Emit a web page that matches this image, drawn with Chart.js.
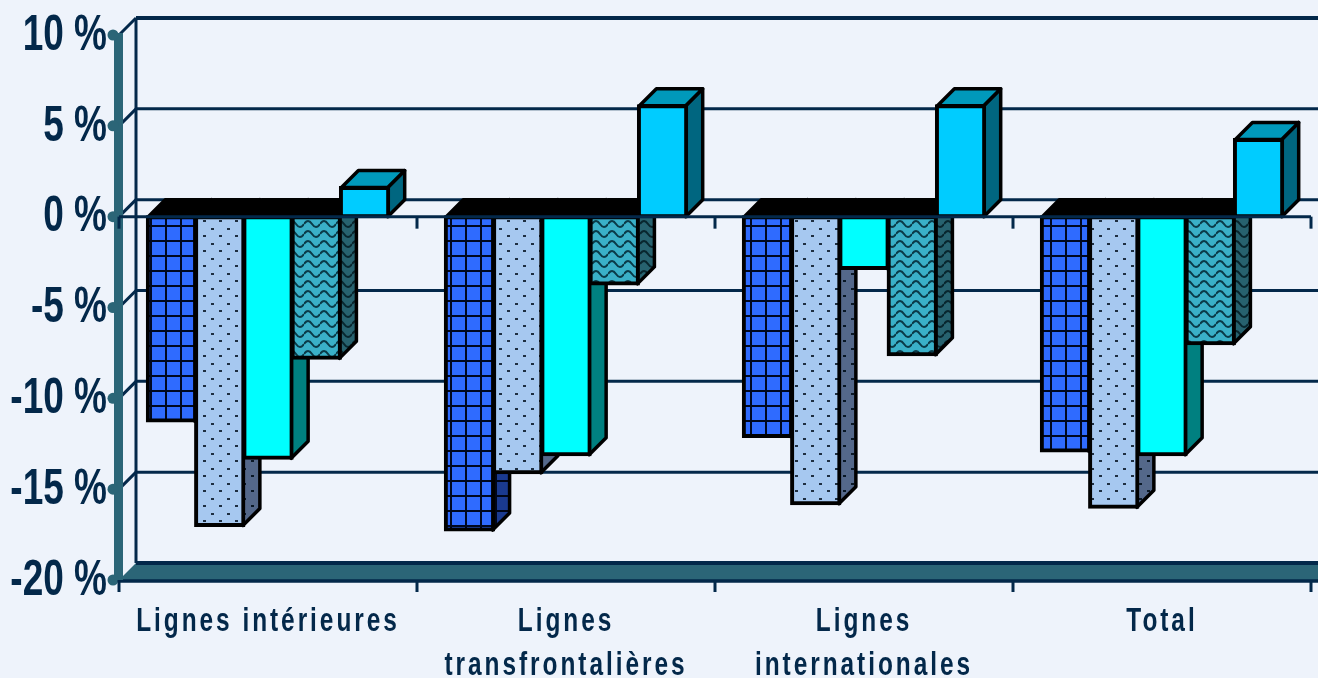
<!DOCTYPE html>
<html>
<head>
<meta charset="utf-8">
<style>
  html, body { margin: 0; padding: 0; background: #EEF3FB; overflow: hidden; }
  canvas { display: block; }
</style>
</head>
<body>
<canvas id="barChart" width="1318" height="678"></canvas>

<script src="https://cdn.jsdelivr.net/npm/chart.js"></script>
<script>
const categories = [['Lignes intérieures'], ['Lignes', 'transfrontalières'], ['Lignes', 'internationales'], ['Total']];
const seriesA = [-11.25, -17.25, -12.1, -12.9];
const seriesB = [-17, -14.1, -15.8, -16];
const seriesC = [-13.3, -13.1, -2.85, -13.1];
const seriesD = [-7.8, -3.7, -7.6, -7];
const seriesE = [1.6, 6.1, 6.1, 4.25];
const seriesValues = [seriesA, seriesB, seriesC, seriesD, seriesE];

const NAVY = '#03284A';
const TEAL = '#2B6577';
const DEPTH = 17;

// small repeating fills, same as the old office chart hatches
function tile(w, h, bg, paint) {
    const c = document.createElement('canvas');
    c.width = w;
    c.height = h;
    const g = c.getContext('2d');
    g.fillStyle = bg;
    g.fillRect(0, 0, w, h);
    paint(g);
    return g.createPattern(c, 'repeat');
}
function gridFill(bg, fg) {
    return tile(15, 15, bg, g => {
        g.fillStyle = fg;
        g.fillRect(0, 0, 2, 15);
        g.fillRect(0, 0, 15, 2);
    });
}
function dotFill(bg, fg) {
    return tile(16, 15, bg, g => {
        g.fillStyle = fg;
        g.fillRect(3, 3, 3, 2);
        g.fillRect(11, 10, 3, 2);
    });
}
function waveFill(bg, fg) {
    return tile(16, 10, bg, g => {
        g.strokeStyle = fg;
        g.lineWidth = 2;
        g.beginPath();
        g.moveTo(0, 4);
        g.quadraticCurveTo(4, -2, 8, 4);
        g.quadraticCurveTo(12, 10, 16, 4);
        g.stroke();
    });
}

const fronts = [gridFill('#2F6BFF', '#000820'), dotFill('#A6C8F0', '#1E2F42'), '#00FFFF', waveFill('#3AB0C8', '#0A3A48'), '#00CCFF'];
const sides = [gridFill('#1A3A90', '#000618'), dotFill('#54688A', '#0A1826'), '#008080', waveFill('#27626F', '#08262E'), '#006680'];
const tops = ['#000000', '#000000', '#000000', '#000000', '#0099BB'];

function poly(ctx, pts, fill) {
    ctx.beginPath();
    pts.forEach((p, i) => i ? ctx.lineTo(p[0], p[1]) : ctx.moveTo(p[0], p[1]));
    ctx.closePath();
    ctx.fillStyle = fill;
    ctx.fill();
    ctx.strokeStyle = '#000';
    ctx.lineWidth = 3.5;
    ctx.lineJoin = 'round';
    ctx.stroke();
}

function line(ctx, x1, y1, x2, y2, width, color) {
    ctx.beginPath();
    ctx.moveTo(x1, y1);
    ctx.lineTo(x2, y2);
    ctx.lineWidth = width;
    ctx.strokeStyle = color;
    ctx.stroke();
}

// the original text is squeezed sideways, there is no narrow font here
function squeezeLabels(scale, sx, spacing, dy) {
    const compute = scale._computeLabelItems;
    const draw = scale.drawLabels;
    scale._computeLabelArea = () => undefined;
    scale._computeLabelItems = function(area) {
        const items = compute.call(scale, area);
        items.forEach(it => {
            it.options.translation[0] /= sx;
            it.options.translation[1] += dy;
        });
        return items;
    };
    scale.drawLabels = function(area) {
        const ctx = scale.ctx;
        ctx.save();
        ctx.scale(sx, 1);
        ctx.letterSpacing = spacing;
        draw.call(scale, area);
        ctx.restore();
    };
}

function drawWalls(chart) {
    const { ctx, chartArea: a, scales: { y }, width } = chart;
    const bottom = y.getPixelForValue(-20);
    y.ticks.forEach(t => {
        const py = y.getPixelForValue(t.value);
        if (t.value > -20) {
            line(ctx, a.left + DEPTH, py - DEPTH, width, py - DEPTH, t.value === 10 ? 4 : 3, NAVY);
            line(ctx, a.left, py, a.left + DEPTH, py - DEPTH, 3, NAVY);
        }
    });
    line(ctx, a.left + DEPTH, y.getPixelForValue(10) - DEPTH, a.left + DEPTH, bottom - DEPTH, 3, NAVY);

    ctx.beginPath();
    ctx.moveTo(a.left, bottom);
    ctx.lineTo(a.left + DEPTH, bottom - DEPTH);
    ctx.lineTo(width, bottom - DEPTH);
    ctx.lineTo(width, bottom);
    ctx.closePath();
    ctx.fillStyle = TEAL;
    ctx.fill();
    line(ctx, a.left + DEPTH, bottom - DEPTH, width, bottom - DEPTH, 4, NAVY);
    line(ctx, a.left, bottom + 1, width, bottom + 1, 3.5, NAVY);

    ctx.fillStyle = TEAL;
    ctx.fillRect(a.left - 5, y.getPixelForValue(10) - 2, 9, bottom - y.getPixelForValue(10) + 2);
    y.ticks.forEach(t => {
        ctx.beginPath();
        ctx.arc(a.left - 6, y.getPixelForValue(t.value), 5.5, 0, Math.PI * 2);
        ctx.fill();
    });
}

// 3d side and top of a bar, goes under its front face
function drawBarBody(chart, meta, i) {
    const { ctx, scales: { y } } = chart;
    const zero = y.getPixelForValue(0);
    meta.data.forEach(bar => {
        const x0 = bar.x - bar.width / 2 + 1;
        const x1 = bar.x + bar.width / 2 - 1;
        const top = Math.min(bar.y, zero);
        const bot = Math.max(bar.y, zero);
        poly(ctx, [[x1, top], [x1 + DEPTH, top - DEPTH], [x1 + DEPTH, bot - DEPTH], [x1, bot]], sides[i]);
        poly(ctx, [[x0, top], [x0 + DEPTH, top - DEPTH], [x1 + DEPTH, top - DEPTH], [x1, top]], tops[i]);
    });
}

// zero line crosses over the bars, category ticks hang from it
function drawFrontAxis(chart) {
    const { ctx, chartArea: a, scales: { x, y } } = chart;
    const zero = y.getPixelForValue(0);
    const bottom = y.getPixelForValue(-20);
    const step = a.width / categories.length;
    line(ctx, a.left, zero, a.right, zero, 3, NAVY);
    for (let i = 0; i <= categories.length; i++) {
        const px = x.getPixelForTick(0) - step / 2 + i * step;
        line(ctx, px, zero, px, zero + 12, 3, NAVY);
        line(ctx, px, bottom, px, bottom + 12, 3, NAVY);
    }
}

const solidPlugin = {
    id: 'solid',
    afterLayout(chart) {
        if (chart._squeezed) return;
        chart._squeezed = true;
        squeezeLabels(chart.scales.y, 0.74, '0px', 1);
        squeezeLabels(chart.scales.x, 0.74, '4px', 0);
    },
    // left to right paint order, later bars cover the sides of earlier ones
    beforeDatasetsDraw(chart) {
        const ctx = chart.ctx;
        ctx.save();
        drawWalls(chart);
        seriesValues.forEach((values, i) => {
            const meta = chart.getDatasetMeta(i);
            drawBarBody(chart, meta, i);
            meta.controller.draw();
        });
        drawFrontAxis(chart);
        ctx.restore();
        return false;
    }
};

new Chart(document.getElementById('barChart'), {
    type: 'bar',
    data: {
        labels: categories,
        datasets: seriesValues.map((values, i) => ({
            data: values,
            backgroundColor: fronts[i],
            borderColor: '#000000',
            borderWidth: 4,
            borderSkipped: false,
            inflateAmount: 1.5
        }))
    },
    options: {
        responsive: false,
        animation: false,
        categoryPercentage: 0.81,
        barPercentage: 1,
        layout: { autoPadding: false, padding: { top: 35, right: 7 } },
        plugins: {
            legend: { display: false },
            tooltip: { enabled: false }
        },
        scales: {
            y: {
                min: -20,
                max: 10,
                afterFit: s => { s.width = 119; },
                grid: { display: false },
                border: { display: false },
                ticks: {
                    stepSize: 5,
                    padding: 4,
                    color: NAVY,
                    font: { family: '"Liberation Sans", Arial', size: 50, weight: 'bold' },
                    callback: v => v + ' %'
                }
            },
            x: {
                afterFit: s => { s.height = 98; },
                grid: { display: false },
                border: { display: false },
                ticks: {
                    padding: 11,
                    maxRotation: 0,
                    autoSkip: false,
                    color: NAVY,
                    font: { family: '"Liberation Sans", Arial', size: 33, weight: 'bold', lineHeight: 1.36 }
                }
            }
        }
    },
    plugins: [solidPlugin]
});
</script>
</body>
</html>
